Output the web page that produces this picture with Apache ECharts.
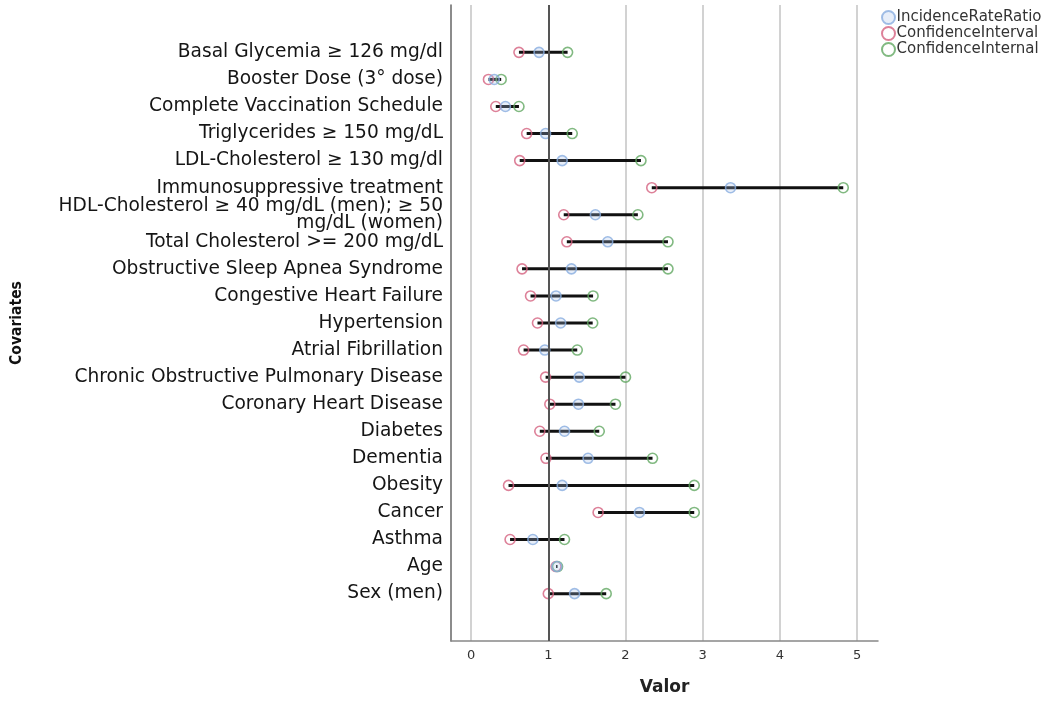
<!DOCTYPE html>
<html>
<head>
<meta charset="utf-8">
<script src="https://cdn.jsdelivr.net/npm/echarts@6/dist/echarts.min.js"></script>
<style>
  html, body { margin: 0; padding: 0; background: #fff; }
  #chart { width: 1050px; height: 701px; }
</style>
</head>
<body>
<div id="chart"></div>
<script>
// covariates, top to bottom
const categories = [
  'Basal Glycemia ≥ 126 mg/dl',
  'Booster Dose (3° dose)',
  'Complete Vaccination Schedule',
  'Triglycerides ≥ 150 mg/dL',
  'LDL-Cholesterol ≥ 130 mg/dl',
  'Immunosuppressive treatment',
  'HDL-Cholesterol ≥ 40 mg/dL (men); ≥ 50\nmg/dL (women)',
  'Total Cholesterol >= 200 mg/dL',
  'Obstructive Sleep Apnea Syndrome',
  'Congestive Heart Failure',
  'Hypertension',
  'Atrial Fibrillation',
  'Chronic Obstructive Pulmonary Disease',
  'Coronary Heart Disease',
  'Diabetes',
  'Dementia',
  'Obesity',
  'Cancer',
  'Asthma',
  'Age',
  'Sex (men)'
];

const irr   = [0.88, 0.30, 0.445, 0.965, 1.18, 3.36, 1.61, 1.77, 1.30, 1.10, 1.16, 0.955, 1.40, 1.39, 1.21, 1.515, 1.18, 2.18, 0.80, 1.11, 1.34];
const lower = [0.62, 0.225, 0.32, 0.72, 0.63, 2.34, 1.20, 1.24, 0.66, 0.77, 0.86, 0.68, 0.965, 1.02, 0.89, 0.97, 0.485, 1.645, 0.505, 1.10, 1.00];
const upper = [1.25, 0.39, 0.62, 1.31, 2.20, 4.82, 2.16, 2.55, 2.55, 1.58, 1.575, 1.375, 2.00, 1.87, 1.66, 2.35, 2.89, 2.89, 1.21, 1.12, 1.75];

const seriesNames = ['IncidenceRateRatio', 'ConfidenceInterval', 'ConfidenceInternal'];
const refValue = 1;

const font = 'DejaVu Sans';

const chart = echarts.init(document.getElementById('chart'));

function pts(arr) {
  return arr.map(function (v, i) { return [v, i]; });
}

const markerBase = {
  type: 'scatter',
  symbol: 'circle',
  symbolSize: 10
};

chart.setOption({
  animation: false,
  textStyle: { fontFamily: font },
  grid: { left: 451, right: 172, top: 5, bottom: 50 },
  legend: {
    orient: 'vertical',
    left: 876,
    top: 5,
    itemWidth: 14,
    itemHeight: 13,
    itemGap: 1,
    icon: 'circle',
    data: seriesNames,
    textStyle: { fontFamily: font, fontSize: 15, lineHeight: 13, color: '#333', padding: [0, 0, 0, -4] }
  },
  xAxis: {
    type: 'value',
    min: -0.26,
    max: 5.27,
    splitNumber: 5,
    name: 'Valor',
    nameLocation: 'middle',
    nameGap: 38,
    nameTextStyle: { fontFamily: font, fontSize: 17, fontWeight: 'bold', color: '#222' },
    axisLine: { show: true, onZero: false, lineStyle: { color: '#888', width: 1.5 } },
    axisTick: { show: false },
    axisLabel: {
      showMinLabel: false,
      showMaxLabel: false,
      margin: 8,
      fontSize: 13,
      color: '#333'
    },
    splitLine: {
      show: true,
      showMinLine: false,
      showMaxLine: false,
      lineStyle: { color: '#d2d2d2', width: 2 }
    }
  },
  yAxis: {
    type: 'value',
    inverse: true,
    min: -1.75,
    max: 21.75,
    interval: 0.25,
    name: 'Covariates',
    nameLocation: 'middle',
    nameRotate: 90,
    nameGap: 426,
    nameTextStyle: { fontFamily: 'DejaVu Sans Condensed, ' + font, fontSize: 15.5, fontWeight: 'bold', color: '#111' },
    axisLine: { show: true, onZero: false, lineStyle: { color: '#666', width: 1.5 } },
    axisTick: { show: false },
    splitLine: { show: false },
    axisLabel: {
      margin: 8,
      fontSize: 18.6,
      lineHeight: 17.5,
      padding: [3, 0, 0, 0],
      color: '#151515',
      formatter: function (v) {
        const i = Math.round(v);
        if (Math.abs(v - i) > 1e-6 || i < 0 || i >= categories.length) return '';
        return categories[i];
      }
    }
  },
  series: [
    {
      type: 'custom',
      name: 'ci',
      z: 2,
      silent: true,
      encode: { x: [0, 1], y: 2 },
      data: categories.map(function (c, i) { return [lower[i], upper[i], i]; }),
      renderItem: function (params, api) {
        const a = api.coord([api.value(0), api.value(2)]);
        const b = api.coord([api.value(1), api.value(2)]);
        return {
          type: 'line',
          shape: { x1: a[0], y1: a[1], x2: b[0], y2: b[1] },
          style: { stroke: '#111', lineWidth: 3 }
        };
      },
      markLine: {
        silent: true,
        symbol: 'none',
        label: { show: false },
        lineStyle: { color: '#555', width: 2, type: 'solid' },
        data: [{ xAxis: refValue }]
      }
    },
    Object.assign({}, markerBase, {
      name: seriesNames[1],
      z: 3,
      data: pts(lower),
      itemStyle: { color: 'rgba(255,255,255,0)', borderColor: '#d4617f', borderWidth: 1.6 }
    }),
    Object.assign({}, markerBase, {
      name: seriesNames[2],
      z: 3,
      data: pts(upper),
      itemStyle: { color: 'rgba(255,255,255,0)', borderColor: '#62a862', borderWidth: 1.6 }
    }),
    Object.assign({}, markerBase, {
      name: seriesNames[0],
      z: 4,
      data: pts(irr),
      itemStyle: { color: 'rgba(170,195,235,0.35)', borderColor: '#8aaee0', borderWidth: 1.6 }
    })
  ]
});
</script>
</body>
</html>
